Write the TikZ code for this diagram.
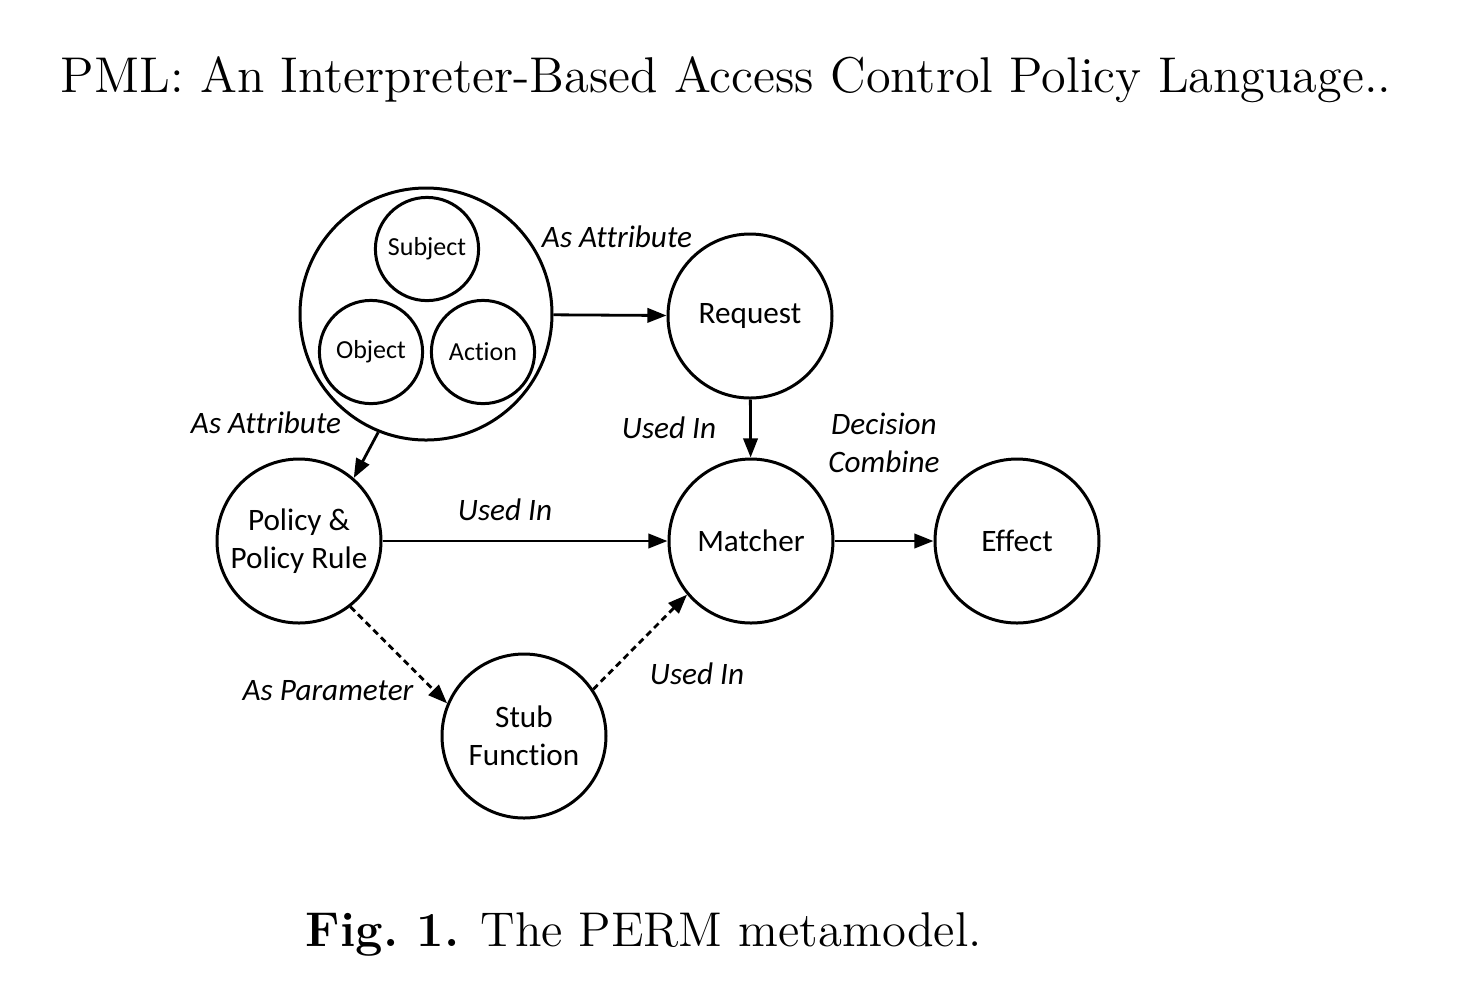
\documentclass[tikz,border=0pt]{standalone}
\usepackage{fontspec}
\newfontfamily\cali[Ligatures=NoCommon]{Carlito}
\usetikzlibrary{arrows.meta}

\tikzset{
  bubble/.style={circle,draw,line width=0.75pt,minimum size=41pt,inner sep=0pt,align=center,font=\cali\fontsize{7.8}{9.4}\selectfont},
  small/.style={circle,draw,line width=0.75pt,minimum size=25.8pt,inner sep=0pt,font=\cali\fontsize{6.5}{7.8}\selectfont},
  lbl/.style={align=center,font=\cali\itshape\fontsize{7.8}{9.4}\selectfont},
  link/.style={line width=0.7pt,-{Triangle[length=4.8pt,width=3.6pt]}},
  dlink/.style={link,dash pattern=on 1.6pt off 1.1pt}
}

\begin{document}
\begin{tikzpicture}[line cap=butt,line join=round,x=0.25pt,y=-0.25pt]
	\useasboundingbox (0,0) rectangle (1460,1000);
	\node[anchor=base west,inner sep=0pt,font=\fontsize{12.57}{15}\selectfont] (title) at (60,92) {PML: An Interpreter-Based Access Control Policy Language..};
	\node[circle,draw,line width=0.75pt,minimum size=63pt,inner sep=0pt] (bigc) at (426,314) {};
		\node[small] (subj) at (427,249) {Subject};
		\node[small] (obj) at (371,352) {Object};
		\node[small] (act) at (483,352) {Action};
	\node[bubble] (req) at (750,316) {Request};
	\node[bubble] (match) at (751,541) {Matcher};
	\node[bubble] (eff) at (1017,541) {Effect};
	\node[bubble] (pol) at (299,541) {Policy \&\\Policy Rule};
	\node[bubble] (stub) at (524,736) {Stub\\Function};
	\draw[link] (bigc) -- (req);
	\draw[link] (bigc.248) -- (pol.49);
	\draw[link] (req) -- (match);
	\draw[link] (pol) -- (match);
	\draw[link] (match) -- (eff);
	\draw[dlink] (pol.308) -- (stub.157);
	\draw[dlink] (stub.34) -- (match.220);
	\node[lbl] (l1) at (617,237) {As Attribute};
	\node[lbl] (l2) at (266,423) {As Attribute};
	\node[lbl] (l3) at (669,428) {Used In};
	\node[lbl] (l4) at (505,510) {Used In};
	\node[lbl] (l5) at (884,443) {Decision\\Combine};
	\node[lbl] (l6) at (328,691) {As Parameter};
	\node[lbl] (l7) at (697,674) {Used In};
	\node[anchor=base west,inner sep=0pt,font=\fontsize{12.2}{15}\selectfont] (cap) at (305,946) {\textbf{Fig.\ 1.} The PERM metamodel.};
\end{tikzpicture}
\end{document}
